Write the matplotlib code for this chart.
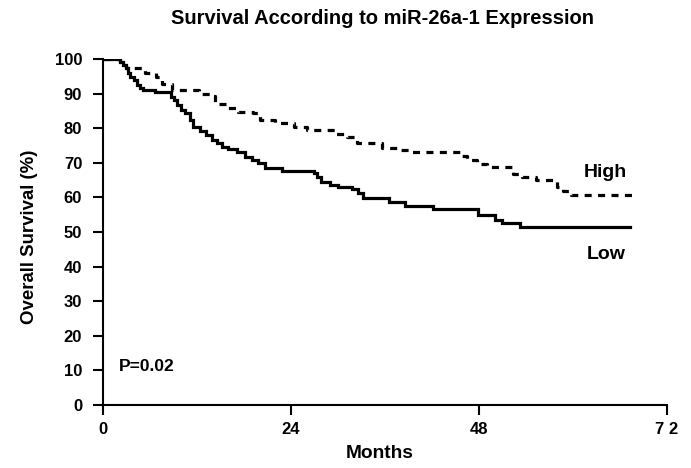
import matplotlib
matplotlib.use("Agg")
import matplotlib.pyplot as plt

plt.rcParams['font.family'] = ['Liberation Sans', 'DejaVu Sans']

# Kaplan-Meier step data (months, % surviving)
low_months = [0, 2.2, 2.5, 2.9, 3.2, 3.5, 3.9, 4.3, 4.7, 5.1, 6.7, 8.7, 9.1, 9.5,
              10.0, 10.5, 11.1, 11.5, 12.4, 13.2, 13.9, 14.5, 15.2, 16.0, 17.1,
              18.1, 19.0, 19.8, 20.7, 22.8, 26.9, 27.3, 27.9, 29.0, 30.0, 31.8,
              32.6, 33.2, 36.5, 38.6, 42.1, 47.9, 50.0, 50.9, 53.3, 67.3]
low_surv = [100, 99.2, 98.3, 97.3, 95.9, 94.9, 93.9, 92.5, 91.5, 91.0, 90.5, 89.1,
            88.2, 86.7, 85.3, 84.3, 82.4, 80.2, 79.2, 78.0, 76.6, 75.6, 74.7, 73.9,
            73.2, 71.8, 70.8, 69.8, 68.4, 67.7, 67.0, 66.0, 64.5, 63.6, 62.9, 62.3,
            61.2, 59.7, 58.8, 57.6, 56.6, 54.9, 53.5, 52.5, 51.3, 51.3]

high_months = [0, 2.2, 2.5, 2.9, 5.4, 6.8, 7.6, 8.8, 12.3, 13.9, 14.3, 15.8, 17.2,
               19.1, 20.1, 22.0, 24.4, 26.1, 29.6, 31.2, 32.5, 35.6, 37.6, 39.3,
               45.8, 46.5, 47.8, 49.0, 52.4, 53.5, 55.3, 58.0, 58.8, 59.8, 67.5]
high_surv = [100, 99.2, 98.3, 97.3, 95.9, 94.8, 92.8, 91.0, 90.0, 89.2, 87.0, 85.8,
             84.8, 84.3, 82.4, 81.5, 80.3, 79.4, 78.4, 77.4, 75.6, 74.2, 73.6, 73.0,
             72.0, 70.8, 69.6, 68.9, 66.9, 66.0, 65.0, 62.9, 61.8, 60.7, 60.7]

x_ticks = [0, 24, 48, 72]
x_ticklabels = ['0', '24', '48', '7 2']
y_ticks = [0, 10, 20, 30, 40, 50, 60, 70, 80, 90, 100]

fig = plt.figure(figsize=(6.91, 4.68), dpi=100)
ax = fig.add_axes([0.149, 0.1346, 0.816, 0.7394])

ax.plot(low_months, low_surv, drawstyle='steps-post', color='black', lw=2.3,
        solid_joinstyle='miter')
ax.plot(high_months, high_surv, drawstyle='steps-post', color='black', lw=2.3,
        ls=(0, (2.2, 2.0)), dash_capstyle='butt')

ax.set_xlim(0, 72)
ax.set_ylim(0, 100)
ax.set_xticks(x_ticks)
ax.set_xticklabels(x_ticklabels)
ax.set_yticks(y_ticks)
for s in ['top', 'right']:
    ax.spines[s].set_visible(False)
for s in ['left', 'bottom']:
    ax.spines[s].set_linewidth(1.5)
ax.tick_params(axis='both', direction='out', length=7, width=1.5, labelsize=12)
ax.tick_params(axis='y', pad=8)
ax.tick_params(axis='x', pad=5)
for lab in ax.get_xticklabels() + ax.get_yticklabels():
    lab.set_fontweight('bold')

ax.set_xlabel('Months', fontsize=13.8, fontweight='bold')
ax.xaxis.set_label_coords((379.5 - 103) / 564, -(453 - 405) / 346)
ax.xaxis.label.set_va('center')
ax.set_ylabel('Overall Survival (%)', fontsize=13.4, fontweight='bold')
ax.yaxis.set_label_coords(-(103 - 30) / 564, (405 - 237) / 346)
ax.yaxis.label.set_va('center')
fig.text(0.5535, 0.9615, 'Survival According to miR-26a-1 Expression', ha='center',
         va='center', fontsize=14.5, fontweight='bold')

ax.text(64.1, 67.3, 'High', ha='center', va='center', fontsize=14, fontweight='bold')
ax.text(64.3, 43.6, 'Low', ha='center', va='center', fontsize=14, fontweight='bold')
ax.text(2.0, 11.0, 'P=0.02', ha='left', va='center', fontsize=12.5, fontweight='bold')

fig.savefig('out.png', dpi=100)
